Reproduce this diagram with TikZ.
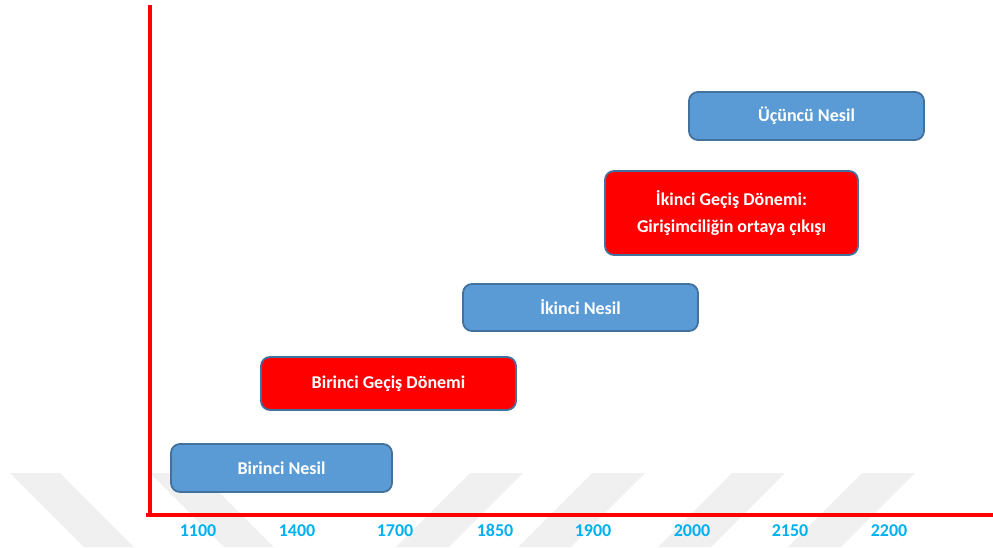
\documentclass[tikz,border=0pt]{standalone}
\usepackage{fontspec}
\setmainfont{Carlito}
\definecolor{boxblue}{HTML}{5B9BD5}
\definecolor{boxedge}{HTML}{41719C}
\definecolor{boxred}{HTML}{FF0000}
\definecolor{labcyan}{HTML}{00B0F0}
\definecolor{wm}{HTML}{F0F0F0}
\tikzset{
  era/.style={draw=boxedge, line width=1.8pt, rounded corners=9pt, fill=boxblue,
    text=white, font=\fontsize{18}{27}\selectfont\bfseries, align=center, inner sep=0pt},
  transition/.style={era, fill=boxred},
  yearlab/.style={text=labcyan, font=\fontsize{18}{20}\selectfont\bfseries, inner sep=0pt, anchor=base},
  axisline/.style={draw=red, line width=4pt},
  mark stripe/.style={fill=wm, draw=none}
}
\begin{document}
\begin{tikzpicture}[x=1pt,y=-1pt]
\useasboundingbox (0,0) rectangle (993,547);
% watermark stripes
\fill[mark stripe] (10,473) -- (60,473) -- (134,547) -- (84,547) -- cycle;
\fill[mark stripe] (150,473) -- (200,473) -- (274,547) -- (224,547) -- cycle;
\fill[mark stripe] (470,473) -- (523,473) -- (449,547) -- (396,547) -- cycle;
\fill[mark stripe] (592,473) -- (645,473) -- (571,547) -- (518,547) -- cycle;
\fill[mark stripe] (732,473) -- (785,473) -- (711,547) -- (658,547) -- cycle;
\fill[mark stripe] (862,473) -- (915,473) -- (841,547) -- (788,547) -- cycle;
% axes
\coordinate (ytop) at (150,5);
\coordinate (xleft) at (146,515);
\coordinate (xright) at (993,515);
\draw[axisline] (ytop) -- (150,517);
\draw[axisline] (xleft) -- (xright);
% boxes
\node[era, minimum width=221pt, minimum height=48pt] (g1) at (281.5,468) {Birinci Nesil};
\node[transition, minimum width=255pt, minimum height=53pt] (t1) at (388.5,383.5) {Birinci Geçiş Dönemi};
\node[era, minimum width=235pt, minimum height=47pt] (g2) at (580.5,307.5) {İkinci Nesil};
\node[transition, minimum width=253pt, minimum height=84pt] (t2) at (731.5,213) {İkinci Geçiş Dönemi:\\Girişimciliğin ortaya çıkışı};
\node[era, minimum width=235pt, minimum height=48pt] (g3) at (806.5,116) {Üçüncü Nesil};
% year labels
\node[yearlab] (y1) at (198,536) {1100};
\node[yearlab] (y2) at (297,536) {1400};
\node[yearlab] (y3) at (395,536) {1700};
\node[yearlab] (y4) at (495,536) {1850};
\node[yearlab] (y5) at (593,536) {1900};
\node[yearlab] (y6) at (692,536) {2000};
\node[yearlab] (y7) at (790,536) {2150};
\node[yearlab] (y8) at (889,536) {2200};
\end{tikzpicture}
\end{document}
